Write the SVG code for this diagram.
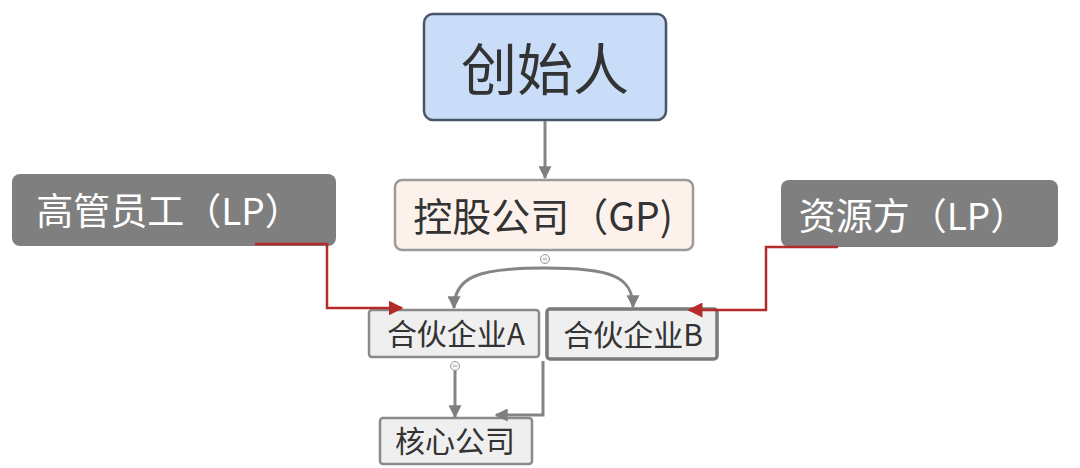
<svg xmlns="http://www.w3.org/2000/svg" width="1080" height="468" viewBox="0 0 1080 468">
<defs>
<marker id="ag" viewBox="0 0 10 10" refX="9" refY="5" markerWidth="13" markerHeight="13" markerUnits="userSpaceOnUse" orient="auto"><path d="M0,0 L10,5 L0,10 z" fill="#7f7f7f"/></marker>
<marker id="ar" viewBox="0 0 10 10" refX="9" refY="5" markerWidth="15" markerHeight="15" markerUnits="userSpaceOnUse" orient="auto"><path d="M0,0 L10,5 L0,10 z" fill="#b52a2a"/></marker>
</defs>
<style>
text{font-family:"Noto Sans CJK SC","Liberation Sans",sans-serif;text-anchor:middle}
.dark{fill:#333}
.white{fill:#fff}
.g{fill:none;stroke:#858585;stroke-width:3}
.r{fill:none;stroke:#b52a2a;stroke-width:2.5}
.sub{fill:#efefef;stroke:#8a8a8a;stroke-width:2.5}
.lp{fill:#7f7f7f}
.knob{fill:#f4f4f4;stroke:#9a9a9a;stroke-width:1}
</style>
<rect width="1080" height="468" fill="#fff"/>
<g id="founder">
<rect x="424" y="14" width="242" height="106" rx="9" fill="#c9ddf8" stroke="#4a5568" stroke-width="2.5"/>
<text x="545" y="90" font-size="56" class="dark">创始人</text>
</g>
<g id="holding">
<rect x="395" y="180" width="298" height="70" rx="7" fill="#fdf2eb" stroke="#9a9a9a" stroke-width="2.5"/>
<text x="543" y="231" font-size="39" class="dark">控股公司（GP)</text>
</g>
<g id="exec">
<rect x="12" y="174" width="324" height="72" rx="8" class="lp"/>
<text x="169" y="225" font-size="37" class="white">高管员工（LP）</text>
</g>
<g id="resource">
<rect x="781" y="180" width="277" height="67" rx="8" class="lp"/>
<text x="913" y="230" font-size="37" class="white">资源方（LP）</text>
</g>
<g id="partnerA">
<rect x="369" y="310" width="170" height="47" rx="3" class="sub"/>
<text x="456" y="345" font-size="30" class="dark">合伙企业A</text>
</g>
<g id="partnerB">
<rect x="547" y="309" width="170" height="50" rx="3" fill="#efefef" stroke="#7a7a7a" stroke-width="3.5"/>
<text x="633" y="346" font-size="30" class="dark">合伙企业B</text>
</g>
<g id="core">
<rect x="380" y="418" width="152" height="46" rx="3" class="sub"/>
<text x="455" y="452" font-size="30" class="dark">核心公司</text>
</g>
<g id="connectors">
<path class="g" d="M545,121 V178" marker-end="url(#ag)"/>
<path class="g" d="M545,268 C480,268 454,276 454,308" marker-end="url(#ag)"/>
<path class="g" d="M545,268 C610,268 633,276 633,307" marker-end="url(#ag)"/>
<path class="r" d="M255,244 H327 V308 H402" marker-end="url(#ar)"/>
<path class="r" d="M838,247 H766 V310 H689" marker-end="url(#ar)"/>
<path class="g" d="M455,370 V417" marker-end="url(#ag)"/>
<path class="g" d="M543,361 V415 H496" marker-end="url(#ag)"/>
<circle class="knob" cx="545" cy="259" r="4.5"/>
<path d="M543,259 H547" stroke="#9a9a9a" stroke-width="1"/>
<circle class="knob" cx="455" cy="366" r="4.5"/>
<path d="M453,366 H457" stroke="#9a9a9a" stroke-width="1"/>
</g>
</svg>
